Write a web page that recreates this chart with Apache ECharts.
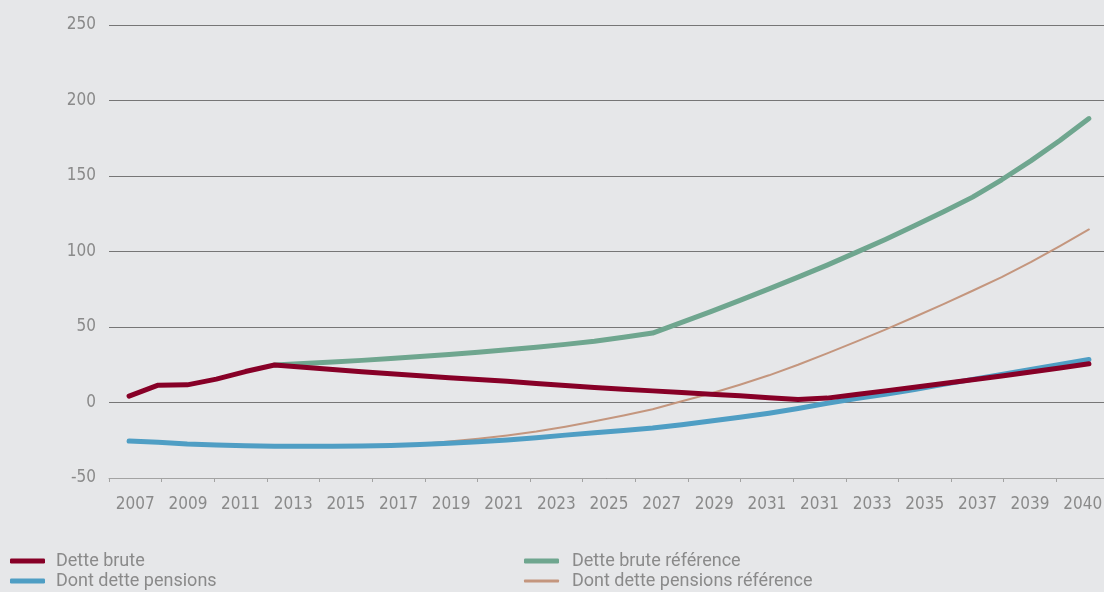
<!DOCTYPE html>
<html>
<head>
<meta charset="utf-8">
<script src="https://cdn.jsdelivr.net/npm/echarts@6/dist/echarts.min.js"></script>
<style>
  html, body { margin: 0; padding: 0; background: #e6e7e9; }
  #chart { width: 1104px; height: 592px; }
</style>
</head>
<body>
<div id="chart"></div>
<script>
// Years of the annual series (2007–2040)
const years = [2007, 2008, 2009, 2010, 2011, 2012, 2013, 2014, 2015, 2016, 2017,
  2018, 2019, 2020, 2021, 2022, 2023, 2024, 2025, 2026, 2027, 2028, 2029,
  2030, 2031, 2032, 2033, 2034, 2035, 2036, 2037, 2038, 2039, 2040];

// Labels printed under the horizontal axis
const axisLabels = ['2007', '2009', '2011', '2013', '2015', '2017', '2019', '2021',
  '2023', '2025', '2027', '2029', '2031', '2031', '2033', '2035', '2037', '2039', '2040'];

// Dette brute
const detteBrute = [4.2, 11.5, 11.7, 15.5, 20.5, 24.8, 23.3, 21.8, 20.4, 19.0, 17.7,
  16.4, 15.2, 14.0, 12.6, 11.2, 9.9, 8.8, 7.7, 6.6, 5.5, 4.4, 3.2,
  2.0, 2.9, 5.3, 7.7, 10.1, 12.6, 15.1, 17.6, 20.2, 22.9, 25.6];

// Dont dette pensions
const dettePensions = [-25.5, -26.3, -27.5, -28.2, -28.6, -28.9, -29.0, -29.0, -28.8, -28.5, -27.8,
  -27.0, -26.0, -24.8, -23.3, -21.6, -20.0, -18.6, -16.9, -14.7, -12.3, -9.8, -7.1,
  -4.0, -0.5, 2.7, 5.4, 8.6, 12.0, 15.3, 18.6, 21.9, 25.2, 28.5];

// Dette brute référence (from 2012)
const detteBruteRef = [null, null, null, null, null, 24.8, 25.8, 26.8, 27.9, 29.1, 30.4,
  31.8, 33.3, 34.9, 36.6, 38.5, 40.6, 43.2, 46.0, 53.0, 60.2, 67.6, 75.2,
  83.0, 91.0, 99.4, 108.0, 117.0, 126.3, 136.0, 147.5, 160.0, 173.5, 188.0];

// Dont dette pensions référence (from 2016)
const pensionsRef = [null, null, null, null, null, null, null, null, null, -28.5, -27.4,
  -25.9, -24.0, -21.8, -19.2, -16.0, -12.4, -8.6, -4.5, 0.8, 6.0, 11.8, 18.0,
  25.0, 32.5, 40.3, 48.3, 56.6, 65.2, 74.0, 83.0, 92.9, 103.5, 114.6];

const pairs = vals => years.map((y, i) => [y, vals[i]]);

const labelFont = "'Liberation Sans Narrow', 'DejaVu Sans Condensed', sans-serif";
const textGrey = '#8a8a8a';

const colors = {
  brute: '#870027',
  pensions: '#4f9ec4',
  bruteRef: '#6fa68f',
  pensionsRef: '#c4967e'
};

// One legend block per entry so each key can carry its own line thickness
function legendEntry(name, left, top, thickness, textPad) {
  return {
    orient: 'vertical', left: left, top: top, padding: 0,
    itemWidth: 35, itemHeight: thickness, icon: 'roundRect',
    textStyle: { color: textGrey, fontFamily: 'Roboto', fontSize: 18, lineHeight: 20,
      padding: [0, 0, 0, textPad] },
    data: [name]
  };
}

const chart = echarts.init(document.getElementById('chart'), null, { renderer: 'canvas' });

chart.setOption({
  backgroundColor: '#e6e7e9',
  animation: false,
  grid: { left: 109, width: 1000, top: 25, bottom: 114, containLabel: false, outerBoundsMode: 'none' },
  xAxis: [
    {
      type: 'value', min: 2006.31, max: 2040.69, show: false
    },
    {
      type: 'category', data: axisLabels, position: 'bottom', boundaryGap: true,
      axisLine: { show: true, lineStyle: { color: '#a3a3a3', width: 1 } },
      axisTick: { show: true, length: 4, lineStyle: { color: '#a3a3a3' } },
      axisLabel: { color: textGrey, fontFamily: labelFont, fontSize: 17, margin: 18, interval: 0 },
      splitLine: { show: false }
    }
  ],
  yAxis: {
    type: 'value', min: -50, max: 250, interval: 50,
    axisLine: { show: false }, axisTick: { show: false },
    axisLabel: { color: textGrey, fontFamily: labelFont, fontSize: 17, margin: 13 },
    splitLine: { lineStyle: { color: '#767676', width: 1 } }
  },
  legend: [
    legendEntry('Dette brute', 10, 551, 5, 6),
    legendEntry('Dont dette pensions', 10, 571, 5, 6),
    legendEntry('Dette brute référence', 524, 551, 5, 8),
    legendEntry('Dont dette pensions référence', 524, 571, 3, 8)
  ],
  series: [
    {
      name: 'Dette brute', type: 'line', xAxisIndex: 0, data: pairs(detteBrute),
      symbol: 'none', z: 5,
      lineStyle: { color: colors.brute, width: 5, cap: 'round', join: 'round' },
      itemStyle: { color: colors.brute }
    },
    {
      name: 'Dont dette pensions', type: 'line', xAxisIndex: 0, data: pairs(dettePensions),
      symbol: 'none', z: 4,
      lineStyle: { color: colors.pensions, width: 5, cap: 'round', join: 'round' },
      itemStyle: { color: colors.pensions }
    },
    {
      name: 'Dette brute référence', type: 'line', xAxisIndex: 0, data: pairs(detteBruteRef),
      symbol: 'none', z: 3,
      lineStyle: { color: colors.bruteRef, width: 5, cap: 'round', join: 'round' },
      itemStyle: { color: colors.bruteRef }
    },
    {
      name: 'Dont dette pensions référence', type: 'line', xAxisIndex: 0, data: pairs(pensionsRef),
      symbol: 'none', z: 2,
      lineStyle: { color: colors.pensionsRef, width: 2, cap: 'round', join: 'round' },
      itemStyle: { color: colors.pensionsRef }
    }
  ]
});
</script>
</body>
</html>
